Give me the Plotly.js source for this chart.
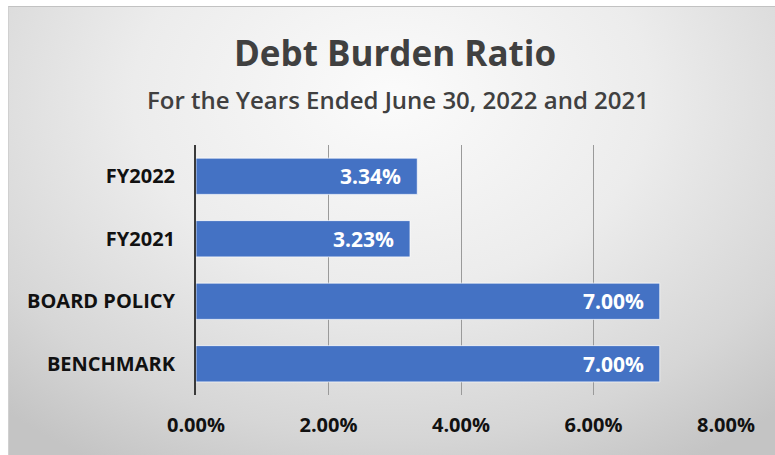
<!DOCTYPE html>
<html>
<head>
<meta charset="utf-8">
<script src="https://cdn.plot.ly/plotly-3.0.1.min.js"></script>
<style>
  html, body { margin: 0; padding: 0; background: #ffffff; }
  #wrap { position: relative; width: 775px; height: 455px; overflow: hidden; background: #ffffff; }
  #panel {
    position: absolute; left: 8px; top: 6px; right: 0; bottom: 0;
    background: radial-gradient(ellipse 75% 95% at 50% 20%, #fbfbfb 0%, #ececec 45%, #d6d6d6 80%, #c4c4c4 100%);
    border-top: 1px solid #c2c2c2; border-left: 1px solid #d0d0d0;
  }
  #chart { position: absolute; left: 0; top: 0; width: 775px; height: 455px; }
</style>
</head>
<body>
<div id="wrap">
  <div id="panel"></div>
  <div id="chart"></div>
</div>
<script>
const categories = ["FY2022", "FY2021", "BOARD POLICY", "BENCHMARK"];
const ratios = [0.0334, 0.0323, 0.07, 0.07];
const tickValues = [0, 0.02, 0.04, 0.06, 0.08];
const tickLabels = ["0.00%", "2.00%", "4.00%", "6.00%", "8.00%"];
const chartTitle = "Debt Burden Ratio";
const chartSubtitle = "For the Years Ended June 30, 2022 and 2021";

const FONT = "'Open Sans', 'Noto Sans', sans-serif";

const trace = {
  type: "bar",
  orientation: "h",
  x: ratios,
  y: categories,
  width: 0.58,
  marker: { color: "#4472C4", line: { color: "rgba(255,255,255,0.7)", width: 1 } },
  hoverinfo: "skip"
};

const labelAnnotations = ratios.map((v, i) => ({
  x: v, y: categories[i], xref: "x", yref: "y",
  text: (v * 100).toFixed(2) + "%",
  showarrow: false, xanchor: "right", yanchor: "middle", xshift: -14,
  font: { family: FONT, size: 21, color: "#ffffff", weight: 700 }
}));

const plotTop = 145, plotBottomMargin = 60, plotLeft = 196, plotRight = 49;
const plotH = 455 - plotTop - plotBottomMargin;
const plotW = 775 - plotLeft - plotRight;

const layout = {
  width: 775, height: 455,
  paper_bgcolor: "rgba(0,0,0,0)",
  plot_bgcolor: "rgba(0,0,0,0)",
  margin: { l: plotLeft, r: plotRight, t: plotTop, b: plotBottomMargin },
  showlegend: false,
  title: {
    text: chartTitle,
    x: 395 / 775, xanchor: "center", y: 1 - 54 / 455, yanchor: "middle",
    font: { family: FONT, size: 35, color: "#404040", weight: 700 }
  },
  xaxis: {
    range: [0, 0.08],
    tickvals: tickValues, ticktext: tickLabels,
    showgrid: true, gridcolor: "#9a9a9a", gridwidth: 1,
    zeroline: false, showline: false,
    ticks: "", ticklabelstandoff: 16,
    tickfont: { family: FONT, size: 20, color: "#111111", weight: 700 },
    fixedrange: true
  },
  yaxis: {
    autorange: "reversed",
    type: "category",
    showgrid: false, zeroline: false,
    showline: true, linecolor: "#3a3a3a", linewidth: 2,
    ticks: "", ticklabelstandoff: 15,
    tickfont: { family: FONT, size: 20, color: "#111111", weight: 700 },
    fixedrange: true
  },
  annotations: [
    {
      text: chartSubtitle, xref: "paper", yref: "paper",
      x: (398 - plotLeft) / plotW, y: 1 + (plotTop - 99) / plotH,
      showarrow: false, xanchor: "center", yanchor: "middle",
      font: { family: FONT, size: 24, color: "#404040", weight: 600 }
    }
  ].concat(labelAnnotations)
};

Plotly.newPlot("chart", [trace], layout, { displayModeBar: false, staticPlot: true });
</script>
</body>
</html>
